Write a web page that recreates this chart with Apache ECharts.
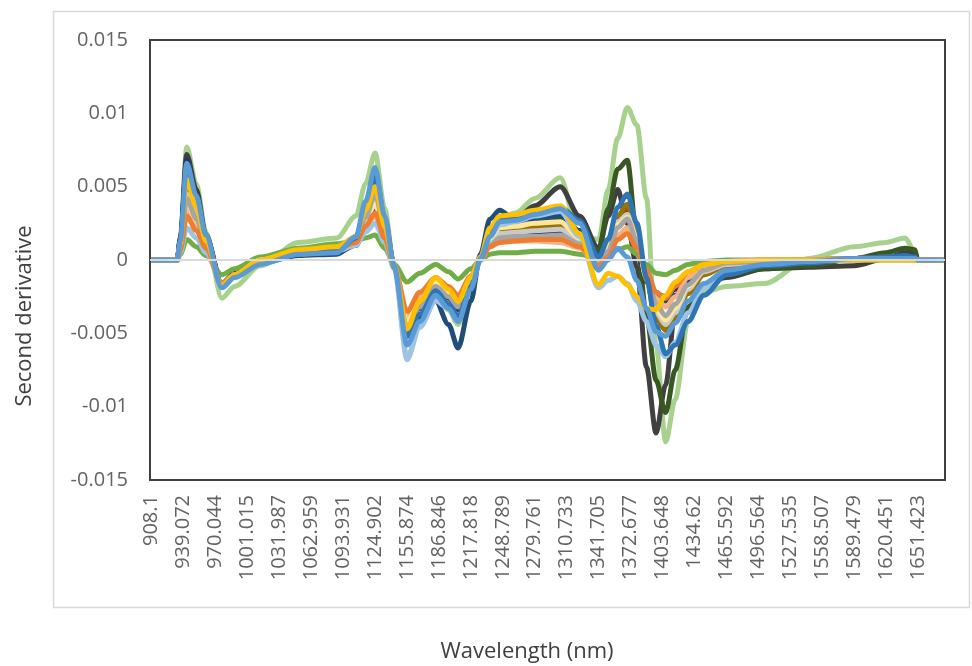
<!DOCTYPE html>
<html>
<head>
<meta charset="utf-8">
<title>Second derivative</title>
<script src="https://cdn.jsdelivr.net/npm/echarts@6/dist/echarts.min.js"></script>
<style>
  html, body { margin: 0; padding: 0; background: #fff; }
  #main { width: 972px; height: 666px; }
</style>
</head>
<body>
<div id="main"></div>
<script>
// wavelength labels shown on the axis (every 10th point)
var TICK_LABELS = ['908.1','939.072','970.044','1001.015','1031.987','1062.959','1093.931','1124.902',
  '1155.874','1186.846','1217.818','1248.789','1279.761','1310.733','1341.705','1372.677','1403.648',
  '1434.62','1465.592','1496.564','1527.535','1558.507','1589.479','1620.451','1651.423'];
var POINT_COUNT = 249;

var KEY_IDX = [0, 8, 9, 11, 14, 17, 22, 26, 34, 46,
  58, 64, 67, 70, 73, 76, 80, 84, 89, 93,
  96, 100, 103, 106, 109, 114, 120, 128, 134, 140,
  143, 146, 149, 152, 155, 158, 161, 164, 168, 173,
  180, 192, 206, 220, 230, 236, 239, 240, 248];

var lightGreen = [0, 0, 0.0016, 0.0077, 0.0052, 0.0019, -0.0026, -0.0018, -0.0004, 0.0012,
  0.0015, 0.003, 0.0052, 0.0073, 0.0035, -0.0005, -0.0066, -0.0045, -0.0025, -0.0034,
  -0.0044, -0.002, 0, 0.0017, 0.0028, 0.0032, 0.0042, 0.0056, 0.0016, 0.0014,
  0.0048, 0.0083, 0.0104, 0.0092, 0.0042, -0.0058, -0.0124, -0.0095, -0.0042, -0.0022,
  -0.0018, -0.0016, 0.0001, 0.0009, 0.0012, 0.0015, 0.0006, 0, 0];
var darkGray = [0, 0, 0.0015, 0.0072, 0.0048, 0.0017, -0.0016, -0.001, -0.0001, 0.0004,
  0.0006, 0.0014, 0.0038, 0.006, 0.0028, -0.0004, -0.0048, -0.0033, -0.0019, -0.0026,
  -0.0034, -0.0016, 0, 0.0018, 0.0025, 0.0028, 0.0037, 0.005, 0.003, 0.0008,
  0.003, 0.0048, 0.0025, -0.0005, -0.0073, -0.0118, -0.0085, -0.0035, -0.0022, -0.0017,
  -0.0012, -0.0006, -0.0005, -0.0004, 0.0001, 0.0005, 0.0005, 0, 0];
var darkGreen = [0, 0, 0.0013, 0.0064, 0.0043, 0.0015, -0.0017, -0.001, -0.0001, 0.0005,
  0.0007, 0.0014, 0.0035, 0.0055, 0.0026, -0.0004, -0.0045, -0.0031, -0.0017, -0.0024,
  -0.0032, -0.0015, 0, 0.0015, 0.0022, 0.0024, 0.0027, 0.0029, 0.002, 0.0006,
  0.0035, 0.0062, 0.0068, 0.0015, -0.0038, -0.0082, -0.0104, -0.0075, -0.0032, -0.0017,
  -0.001, -0.0006, -0.0004, 0.0001, 0.0005, 0.0008, 0.0007, 0, 0];
var darkNavy = [0, 0, 0.0014, 0.0068, 0.0045, 0.0016, -0.0016, -0.0009, 0, 0.0004,
  0.0005, 0.001, 0.0022, 0.0035, 0.0016, -0.0005, -0.004, -0.0028, -0.0015, -0.0022,
  -0.0028, -0.0013, 0, 0.0012, 0.0016, 0.0017, 0.0018, 0.002, 0.0012, 0.0003,
  0.0012, 0.0025, 0.003, 0.0012, -0.0015, -0.0023, -0.0025, -0.002, -0.0012, -0.0006,
  -0.0002, -0.0001, 0, 0, 0.0001, 0.0001, 0.0001, 0, 0];
var green = [0, 0, 0.0004, 0.0014, 0.0009, 0.0003, -0.001, -0.0006, 0.0002, 0.0008,
  0.0011, 0.0013, 0.0015, 0.0017, 0.0008, -0.0003, -0.0015, -0.0009, -0.0003, -0.0008,
  -0.0013, -0.0006, 0, 0.0004, 0.0005, 0.0005, 0.0006, 0.0006, 0.0004, 0.0001,
  0.0003, 0.0007, 0.0009, 0.0004, -0.0003, -0.0009, -0.001, -0.0007, -0.0003, -0.0001,
  0, 0, 0, 0, 0, 0, 0, 0, 0];
var darkBlue = [0, 0, 0.0013, 0.0062, 0.0041, 0.0015, -0.0017, -0.001, -0.0002, 0.0003,
  0.0004, 0.0012, 0.0033, 0.0052, 0.0024, -0.0005, -0.0052, -0.0039, -0.0028, -0.0044,
  -0.006, -0.0028, 0.0004, 0.0028, 0.0034, 0.0027, 0.0028, 0.003, 0.002, 0.0003,
  0.0014, 0.003, 0.0034, 0.0014, -0.0012, -0.0022, -0.0028, -0.0024, -0.0015, -0.0008,
  -0.0003, -0.0001, 0, 0.0001, 0.0002, 0.0003, 0.0002, 0, 0];
var brown = [0, 0, 0.0008, 0.0038, 0.0025, 0.0009, -0.0017, -0.001, 0, 0.0006,
  0.0008, 0.0013, 0.0027, 0.004, 0.0019, -0.0004, -0.0042, -0.0027, -0.0014, -0.0021,
  -0.0028, -0.0013, 0, 0.0013, 0.0019, 0.002, 0.0021, 0.0022, 0.0014, -0.0001,
  0.0009, 0.0027, 0.0034, 0.0016, -0.0011, -0.0033, -0.0042, -0.0034, -0.0019, -0.0008,
  -0.0003, -0.0001, 0, 0.0001, 0.0002, 0.0002, 0.0001, 0, 0];
var olive = [0, 0, 0.001, 0.0048, 0.0032, 0.0011, -0.0018, -0.0011, -0.0001, 0.0005,
  0.0007, 0.0014, 0.0031, 0.0048, 0.0022, -0.0004, -0.0048, -0.0031, -0.0017, -0.0024,
  -0.0031, -0.0014, 0, 0.0014, 0.002, 0.0021, 0.0023, 0.0024, 0.0015, 0,
  0.001, 0.003, 0.0038, 0.0018, -0.0014, -0.004, -0.0048, -0.0039, -0.0023, -0.001,
  -0.0004, -0.0001, 0, 0.0001, 0.0002, 0.0002, 0.0001, 0, 0];
var lightGray = [0, 0, 0.001, 0.0045, 0.003, 0.0011, -0.0018, -0.0011, -0.0001, 0.0005,
  0.0007, 0.0014, 0.003, 0.0043, 0.002, -0.0004, -0.0044, -0.003, -0.0016, -0.0023,
  -0.003, -0.0014, 0, 0.0012, 0.0018, 0.0019, 0.002, 0.0021, 0.0013, 0,
  0.0009, 0.0026, 0.0031, 0.0015, -0.0012, -0.0036, -0.0044, -0.0036, -0.002, -0.0008,
  -0.0003, -0.0001, 0, 0.0001, 0.0001, 0.0001, 0.0001, 0, 0];
var lightOrange = [0, 0, 0.0009, 0.0035, 0.0023, 0.0008, -0.0017, -0.001, 0, 0.0006,
  0.0008, 0.0012, 0.0022, 0.003, 0.0014, -0.0004, -0.0038, -0.0025, -0.0013, -0.002,
  -0.0026, -0.0012, 0, 0.001, 0.0013, 0.0013, 0.0013, 0.0012, 0.0008, -0.0003,
  0.0004, 0.0017, 0.0022, 0.001, -0.0008, -0.0026, -0.0032, -0.0025, -0.0012, -0.0004,
  -0.0001, 0, 0, 0.0001, 0.0001, 0.0001, 0, 0, 0];
var lightYellow = [0, 0, 0.0009, 0.004, 0.0027, 0.001, -0.0017, -0.001, 0, 0.0006,
  0.0008, 0.0013, 0.0027, 0.0038, 0.0018, -0.0004, -0.0042, -0.0028, -0.0015, -0.0022,
  -0.0028, -0.0013, 0, 0.0015, 0.0022, 0.0023, 0.0025, 0.0026, 0.0015, 0,
  0.001, 0.0024, 0.0029, 0.0014, -0.0012, -0.0034, -0.0041, -0.0033, -0.0018, -0.0007,
  -0.0002, -0.0001, 0, 0, 0.0001, 0.0001, 0, 0, 0];
var lightBlue = [0, 0, 0.0005, 0.0022, 0.0015, 0.0005, -0.0016, -0.0011, -0.0002, 0.0004,
  0.0006, 0.001, 0.0019, 0.0025, 0.0012, -0.0006, -0.0068, -0.0046, -0.0028, -0.0033,
  -0.004, -0.0019, 0, 0.0016, 0.0024, 0.0026, 0.003, 0.0033, 0.0016, -0.0019,
  -0.0014, -0.0011, -0.0016, -0.0028, -0.0042, -0.0058, -0.0066, -0.0056, -0.0036, -0.0019,
  -0.0008, -0.0003, -0.0001, 0, 0.0001, 0.0001, 0.0001, 0, 0];
var gray = [0, 0, 0.0009, 0.0042, 0.0028, 0.001, -0.0018, -0.0011, -0.0001, 0.0005,
  0.0006, 0.0013, 0.0029, 0.0045, 0.0021, -0.0004, -0.0046, -0.0032, -0.0018, -0.0025,
  -0.0032, -0.0015, 0, 0.001, 0.0015, 0.0016, 0.0016, 0.0017, 0.0011, -0.0003,
  0.0006, 0.0022, 0.0028, 0.0013, -0.001, -0.003, -0.0038, -0.003, -0.0017, -0.0007,
  -0.0002, -0.0001, 0, 0.0001, 0.0001, 0.0001, 0.0001, 0, 0];
var orange = [0, 0, 0.0007, 0.003, 0.002, 0.0008, -0.0016, -0.001, -0.0001, 0.0006,
  0.0008, 0.0012, 0.0023, 0.0032, 0.0015, -0.0004, -0.0035, -0.0022, -0.0012, -0.0018,
  -0.0024, -0.0011, 0.0001, 0.0009, 0.0012, 0.0013, 0.0014, 0.0014, 0.0009, -0.0004,
  0.0002, 0.0014, 0.0018, 0.0008, -0.0007, -0.0022, -0.0026, -0.0018, -0.0008, -0.0003,
  -0.0001, 0, 0, 0.0001, 0.0001, 0.0001, 0, 0, 0];
var blue = [0, 0, 0.0012, 0.0058, 0.0038, 0.0014, -0.0017, -0.0011, -0.0002, 0.0004,
  0.0006, 0.0015, 0.0036, 0.0055, 0.0026, -0.0005, -0.0052, -0.0037, -0.0021, -0.003,
  -0.0038, -0.0018, 0.0001, 0.0017, 0.0028, 0.0029, 0.0032, 0.0036, 0.0027, 0.0002,
  0.0014, 0.0036, 0.0045, 0.0025, -0.0012, -0.0045, -0.0064, -0.0058, -0.0042, -0.0024,
  -0.001, -0.0004, -0.0002, 0.0001, 0.0002, 0.0003, 0.0002, 0, 0];
var yellow = [0, 0, 0.0011, 0.0055, 0.0036, 0.0013, -0.0017, -0.001, 0, 0.0007,
  0.0009, 0.0016, 0.0034, 0.005, 0.0023, -0.0004, -0.0047, -0.0028, -0.0012, -0.002,
  -0.0028, -0.0012, 0.0002, 0.0022, 0.003, 0.0031, 0.0034, 0.0037, 0.0018, -0.0017,
  -0.0009, -0.0011, -0.0017, -0.0025, -0.0033, -0.0034, -0.0024, -0.0015, -0.0008, -0.0003,
  -0.0001, 0, 0, 0, 0, 0, 0, 0, 0];
var skyBlue = [0, 0, 0.0013, 0.0066, 0.0044, 0.0017, -0.0019, -0.0012, -0.0003, 0.0004,
  0.0005, 0.0016, 0.004, 0.0063, 0.003, -0.0004, -0.0058, -0.0042, -0.0024, -0.0033,
  -0.0042, -0.002, 0.0001, 0.0016, 0.0026, 0.0027, 0.0031, 0.0035, 0.0025, -0.0007,
  0, 0.0008, 0.0002, -0.0014, -0.0033, -0.0049, -0.0052, -0.0043, -0.0028, -0.0016,
  -0.0007, -0.0003, -0.0001, 0.0001, 0.0001, 0.0001, 0.0001, 0, 0];

// draw order: first is at the back
var lines = [
  { values: lightGreen, color: '#A9D18E' },
  { values: darkGray, color: '#404040' },
  { values: darkGreen, color: '#385723' },
  { values: darkNavy, color: '#203864' },
  { values: green, color: '#70AD47' },
  { values: darkBlue, color: '#1F4E79' },
  { values: brown, color: '#9E480E' },
  { values: olive, color: '#997300' },
  { values: lightGray, color: '#C9C9C9' },
  { values: lightOrange, color: '#F4B183' },
  { values: lightYellow, color: '#FFE699' },
  { values: lightBlue, color: '#9DC3E6' },
  { values: gray, color: '#A5A5A5' },
  { values: orange, color: '#ED7D31' },
  { values: blue, color: '#2E75B6' },
  { values: yellow, color: '#FFC000' },
  { values: skyBlue, color: '#5B9BD5' }
];

var categories = [];
for (var i = 0; i < POINT_COUNT; i++) {
  if (i % 10 === 0 && i / 10 < TICK_LABELS.length) {
    categories.push(TICK_LABELS[i / 10]);
  } else {
    categories.push((908.1 + i * 3.09718).toFixed(3));
  }
}

var series = [];
for (var s = 0; s < lines.length; s++) {
  var data = [];
  for (var k = 0; k < KEY_IDX.length; k++) {
    data.push([KEY_IDX[k], lines[s].values[k]]);
  }
  var item = {
    type: 'line',
    name: 'S' + (s + 1),
    data: data,
    symbol: 'none',
    smooth: 0.3,
    smoothMonotone: 'x',
    lineStyle: { color: lines[s].color, width: 5 },
    itemStyle: { color: lines[s].color }
  };
  if (s === 0) {
    // horizontal axis line at zero
    item.markLine = {
      silent: true,
      symbol: ['none', 'none'],
      label: { show: false },
      lineStyle: { color: '#D9D9D9', width: 2, type: 'solid' },
      data: [{ yAxis: 0 }]
    };
  }
  series.push(item);
}

var myChart = echarts.init(document.getElementById('main'));
var option = {
  animation: false,
  backgroundColor: '#fff',
  grid: {
    left: 150, right: 27, top: 40, bottom: 186,
    show: true, borderColor: '#404040', borderWidth: 2
  },
  xAxis: {
    type: 'category',
    data: categories,
    boundaryGap: true,
    axisLine: { show: false },
    axisTick: { show: false },
    axisLabel: {
      interval: 9,
      rotate: 90,
      margin: 15,
      color: '#636363',
      fontSize: 20,
      fontFamily: '"Open Sans", sans-serif'
    }
  },
  yAxis: {
    type: 'value',
    min: -0.015,
    max: 0.015,
    interval: 0.005,
    axisLine: { show: false },
    axisTick: { show: false },
    splitLine: { show: false },
    axisLabel: {
      margin: 22,
      color: '#636363',
      fontSize: 20,
      fontFamily: '"Open Sans", sans-serif'
    }
  },
  graphic: [
    {
      type: 'rect',
      shape: { x: 53.5, y: 11.5, width: 916, height: 596 },
      style: { fill: 'none', stroke: '#D9D9D9', lineWidth: 1.5 }
    },
    {
      type: 'text',
      x: 25, y: 316,
      rotation: Math.PI / 2,
      style: {
        text: 'Second derivative',
        fill: '#404040',
        fontSize: 22,
        fontFamily: '"Open Sans", sans-serif',
        align: 'center',
        verticalAlign: 'middle'
      }
    },
    {
      type: 'text',
      x: 527, y: 652,
      style: {
        text: 'Wavelength (nm)',
        fill: '#404040',
        fontSize: 22,
        fontFamily: '"Open Sans", sans-serif',
        align: 'center',
        verticalAlign: 'middle'
      }
    }
  ],
  series: series
};
myChart.setOption(option);
</script>
</body>
</html>
